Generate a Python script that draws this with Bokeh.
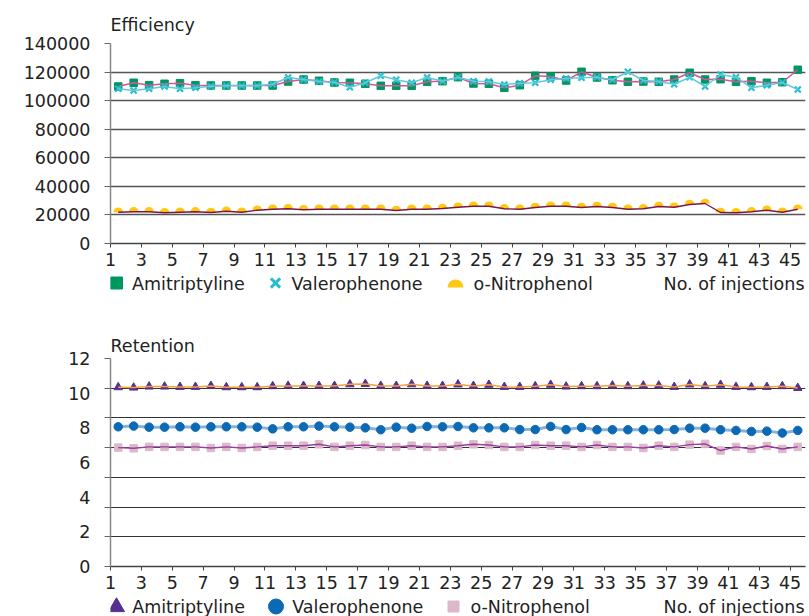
from math import pi
import numpy as np
from bokeh.plotting import figure
from bokeh.models import Range1d, FixedTicker, BasicTickFormatter
from bokeh.layouts import column
from bokeh.embed import file_html
from bokeh.resources import INLINE
from bokeh.core.properties import value

FONT = "DejaVu Sans"
FS = "17.5px"
TXT = "#222222"

# ---------------- data ----------------
injections = list(range(1, 46))
x_tick_labels = list(range(1, 46, 2))
eff_ticks = list(range(0, 140001, 20000))
ret_ticks = list(range(0, 13, 2))
series_names = ["Amitriptyline", "Valerophenone", "o-Nitrophenol"]
x_title = "No. of injections"

eff_amitriptyline = [109900, 112500, 110800, 111800, 112200, 110800, 110600, 110600, 110600, 110600,
                     110600, 113400, 114800, 113900, 112700, 112500, 111800, 110400, 110400, 110400,
                     113200, 113600, 116400, 112000, 111800, 109000, 110800, 117400, 116900, 114100,
                     120200, 116200, 114300, 113200, 113400, 113200, 114800, 119500, 114800, 115000,
                     113200, 113600, 112500, 112900, 121600]
eff_valerophenone = [108300, 107100, 108300, 109900, 108300, 109000, 110100, 110400, 110400, 110400,
                     111500, 116200, 114800, 113400, 112900, 109400, 112500, 117400, 114600, 112500,
                     116200, 113600, 116400, 113600, 113400, 111300, 112200, 112500, 114600, 115500,
                     116000, 116400, 114600, 120200, 114100, 113400, 111500, 116400, 109900, 118300,
                     116400, 109000, 110800, 112700, 107800]
eff_nitrophenol = [21900, 22200, 22200, 21500, 21900, 22200, 21700, 22600, 21900, 23300,
                   24000, 24300, 23600, 24000, 24000, 24000, 24000, 24000, 23100, 24000,
                   24000, 24500, 25400, 26100, 26100, 24300, 24000, 25200, 26100, 26100,
                   25200, 25900, 25200, 24000, 24300, 25900, 25400, 27300, 28000, 21700,
                   21500, 22200, 23300, 21900, 24000]

ret_amitriptyline = [10.34, 10.32, 10.38, 10.38, 10.36, 10.36, 10.42, 10.34, 10.34, 10.34,
                     10.40, 10.42, 10.42, 10.42, 10.42, 10.51, 10.53, 10.42, 10.42, 10.51,
                     10.42, 10.42, 10.50, 10.42, 10.48, 10.36, 10.36, 10.40, 10.48, 10.38,
                     10.40, 10.40, 10.44, 10.40, 10.44, 10.44, 10.36, 10.50, 10.40, 10.48,
                     10.36, 10.34, 10.36, 10.40, 10.30]
ret_valerophenone = [8.06, 8.10, 8.04, 8.04, 8.06, 8.04, 8.06, 8.06, 8.06, 8.04,
                     7.94, 8.06, 8.06, 8.10, 8.06, 8.04, 8.00, 7.89, 8.04, 7.98,
                     8.08, 8.06, 8.08, 8.00, 8.00, 8.00, 7.90, 7.90, 8.08, 7.90,
                     8.02, 7.89, 7.89, 7.89, 7.89, 7.89, 7.90, 7.98, 7.98, 7.89,
                     7.85, 7.79, 7.81, 7.70, 7.85]
ret_nitrophenol = [6.86, 6.82, 6.90, 6.90, 6.90, 6.90, 6.84, 6.90, 6.84, 6.90,
                   6.97, 6.97, 6.97, 7.05, 6.90, 6.97, 7.01, 6.90, 6.90, 6.97,
                   6.90, 6.90, 6.97, 7.05, 7.01, 6.90, 6.90, 7.01, 6.97, 6.97,
                   6.90, 7.01, 6.90, 6.90, 6.84, 6.97, 6.90, 7.03, 7.07, 6.69,
                   6.90, 6.78, 6.95, 6.78, 6.90]

# ---------------- colours ----------------
AMI_EFF, AMI_EFF_LINE = "#00975f", "#d3559e"
VAL_EFF, VAL_EFF_LINE = "#26bdd0", "#63cbd8"
NIT_EFF, NIT_EFF_LINE = "#ffc812", "#7b1648"
AMI_RET, AMI_RET_LINE = "#56308f", "#f5a03c"
VAL_RET, VAL_RET_LINE = "#0c69b4", "#86b3dc"
NIT_RET, NIT_RET_LINE = "#dcb9ca", "#9a3d9f"

FRAME_W = 695
LEFT = 110
RIGHT = 4


def base_fig(title, y_max, frame_h, top, bottom, standoff, x_standoff):
    p = figure(frame_width=FRAME_W, frame_height=frame_h,
               min_border_left=LEFT, min_border_right=RIGHT,
               min_border_top=top, min_border_bottom=bottom,
               x_range=Range1d(0.5, 45.5), y_range=Range1d(0, y_max),
               output_backend="svg", toolbar_location=None, title=title)
    p.outline_line_color = None
    p.title.text_font = FONT
    p.title.text_font_size = FS
    p.title.text_font_style = "normal"
    p.title.text_color = TXT
    p.title.align = "left"
    p.title.offset = 0
    p.title.standoff = standoff
    p.xgrid.visible = False

    xa = p.xaxis[0]
    xa.ticker = FixedTicker(ticks=[t - 0.5 for t in x_tick_labels])
    xa.major_label_overrides = {t - 0.5: str(t) for t in x_tick_labels}
    xa.axis_line_color = "#444444"
    xa.axis_line_width = 1.5
    xa.major_tick_line_color = "#444444"
    xa.major_tick_out = 4
    xa.major_tick_in = 0
    xa.minor_tick_line_color = None
    xa.major_label_standoff = x_standoff
    xa.major_label_text_font = FONT
    xa.major_label_text_font_size = FS
    xa.major_label_text_color = TXT

    ya = p.yaxis[0]
    ya.axis_line_color = "#888888"
    ya.axis_line_width = 1.5
    ya.major_tick_out = 6
    ya.major_tick_in = 0
    ya.major_label_standoff = 14
    ya.major_label_text_font = FONT
    ya.major_label_text_font_size = FS
    ya.major_label_text_color = TXT
    return p


def legend_strip(h):
    # frame is aligned with the charts' frames, so x is in page pixels
    lg = figure(frame_width=FRAME_W, frame_height=h,
                min_border_left=LEFT, min_border_right=RIGHT,
                min_border_top=0, min_border_bottom=0,
                x_range=Range1d(LEFT, LEFT + FRAME_W), y_range=Range1d(0, h),
                output_backend="svg", toolbar_location=None,
                x_axis_type=None, y_axis_type=None)
    lg.outline_line_color = None
    lg.grid.visible = False
    return lg


def legend_text(lg, x, y, s, align="left"):
    lg.text(x=[x], y=[y], text=[s], text_font=value(FONT), text_font_size=value(FS),
            text_color=TXT, text_baseline="middle", text_align=align)


# ---------------- Efficiency ----------------
p1 = base_fig("Efficiency", 140000, 200, 43, 30, 17, 5)
p1.yaxis[0].ticker = FixedTicker(ticks=eff_ticks)
p1.yaxis[0].formatter = BasicTickFormatter(use_scientific=False)
p1.yaxis[0].major_tick_line_color = "#666666"
p1.yaxis[0].minor_tick_line_color = None
p1.ygrid.ticker = FixedTicker(ticks=eff_ticks)
p1.ygrid.grid_line_color = "#555555"
p1.ygrid.grid_line_width = 1.3

p1.scatter(injections, eff_amitriptyline, marker="square", size=7.5,
           fill_color=AMI_EFF, line_color=AMI_EFF)
p1.line(injections, eff_amitriptyline, line_color=AMI_EFF_LINE, line_width=1.5)
p1.scatter(injections, eff_valerophenone, marker="x", size=8.5,
           line_color=VAL_EFF, line_width=2.2)
p1.line(injections, eff_valerophenone, line_color=VAL_EFF_LINE, line_width=1.5)
p1.wedge(x=injections, y=eff_nitrophenol, radius=4.8, radius_units="screen",
         start_angle=0, end_angle=pi, fill_color=NIT_EFF, line_color=None)
p1.line(injections, eff_nitrophenol, line_color=NIT_EFF_LINE, line_width=1.4)

lg1 = legend_strip(20)
lg1.scatter([116], [10.5], marker="square", size=12, fill_color=AMI_EFF, line_color=AMI_EFF)
legend_text(lg1, 131.5, 10, series_names[0])
lg1.scatter([275], [10.5], marker="x", size=13, line_color=VAL_EFF, line_width=3)
legend_text(lg1, 291, 10, series_names[1])
lg1.wedge(x=[455], y=[6], radius=8, radius_units="screen", start_angle=0, end_angle=pi,
          fill_color=NIT_EFF, line_color=None)
legend_text(lg1, 473, 10, series_names[2])
legend_text(lg1, 804, 10, x_title, align="right")

# ---------------- Retention ----------------
grid_levels = list(np.linspace(0, 12, 8))
p2 = base_fig("Retention", 12, 208, 65, 30, 6, 5)
p2.yaxis[0].ticker = FixedTicker(ticks=ret_ticks, minor_ticks=grid_levels)
p2.yaxis[0].major_tick_line_color = None
p2.yaxis[0].minor_tick_line_color = "#666666"
p2.yaxis[0].minor_tick_out = 6
p2.yaxis[0].minor_tick_in = 0
p2.ygrid.ticker = FixedTicker(ticks=grid_levels)
p2.ygrid.grid_line_color = "#333333"
p2.ygrid.grid_line_width = 1.2

p2.scatter(injections, ret_amitriptyline, marker="triangle", size=8.5,
           fill_color=AMI_RET, line_color=AMI_RET)
p2.line(injections, ret_amitriptyline, line_color=AMI_RET_LINE, line_width=1.5)
p2.line(injections, ret_valerophenone, line_color=VAL_RET_LINE, line_width=3)
p2.scatter(injections, ret_valerophenone, marker="circle", size=8.5,
           fill_color=VAL_RET, line_color=VAL_RET)
p2.scatter(injections, ret_nitrophenol, marker="square", size=7.5,
           fill_color=NIT_RET, line_color=NIT_RET)
p2.line(injections, ret_nitrophenol, line_color=NIT_RET_LINE, line_width=1.4)

lg2 = legend_strip(20)
lg2.scatter([116], [9.5], marker="triangle", size=16, fill_color=AMI_RET, line_color=AMI_RET)
legend_text(lg2, 131.7, 10, series_names[0])
lg2.scatter([275.5], [10], marker="circle", size=15, fill_color=VAL_RET, line_color=VAL_RET)
legend_text(lg2, 291.7, 10, series_names[1])
lg2.scatter([453], [10], marker="square", size=11, fill_color=NIT_RET, line_color=NIT_RET)
legend_text(lg2, 470, 10, series_names[2])
legend_text(lg2, 804, 10, x_title, align="right")

layout = column(p1, lg1, p2, lg2, spacing=0)
open("out.html", "w").write(file_html(layout, INLINE))
